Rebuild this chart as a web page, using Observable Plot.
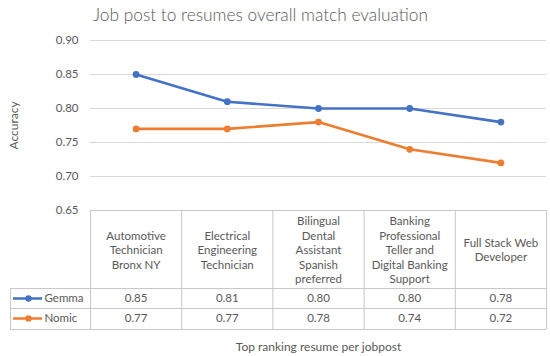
<!DOCTYPE html>
<html>
<head>
<meta charset="utf-8">
<script src="https://cdn.jsdelivr.net/npm/d3@7"></script>
<script src="https://cdn.jsdelivr.net/npm/@observablehq/plot@0.6"></script>
<style>
  body { margin: 0; background: #fff; }
  #chart svg { display: block; }
</style>
</head>
<body>
<div id="chart"></div>
<script>
const categories = [
  "Automotive\nTechnician\nBronx NY",
  "Electrical\nEngineering\nTechnician",
  "Bilingual\nDental\nAssistant\nSpanish\npreferred",
  "Banking\nProfessional\nTeller and\nDigital Banking\nSupport",
  "Full Stack Web\nDeveloper"
];
const gemma = [0.85, 0.81, 0.80, 0.80, 0.78];
const nomic = [0.77, 0.77, 0.78, 0.74, 0.72];
const seriesNames = ["Gemma", "Nomic"];
const seriesColors = ["#4472C4", "#ED7D31"];
const yTicks = [0.65, 0.70, 0.75, 0.80, 0.85, 0.90];
const title = "Job post to resumes overall match evaluation";
const xTitle = "Top ranking resume per jobpost";
const yTitle = "Accuracy";

// layout
const W = 550, H = 356;
const X0 = 90, X1 = 546, Y0 = 210, Y1 = 40;
const n = categories.length;
const yMin = yTicks[0], yMax = yTicks[yTicks.length - 1];
const invX = px => -0.5 + (px - X0) / (X1 - X0) * n;
const invY = py => yMin + (Y0 - py) / (Y0 - Y1) * (yMax - yMin);

const series = [gemma, nomic];
const rows = series.flatMap((vals, s) => vals.map((v, i) => ({series: seriesNames[s], i, v})));
const tableRowY = [298, 318];
const tableLinesY = [288, 308, 329];
const tableLeft = 10;
const boundaries = d3.range(n + 1).map(i => i - 0.5);

const grid = "#d9d9d9";
const border = "#c8c8c8";
const textColor = "#595959";
const fs = 11.5;

const chart = Plot.plot({
  width: W, height: H,
  marginLeft: X0, marginRight: W - X1, marginTop: Y1, marginBottom: H - Y0,
  style: {fontFamily: "Lato, 'Open Sans', sans-serif", fontSize: "12px", color: textColor, background: "#fff"},
  x: {domain: [-0.5, n - 0.5], axis: null},
  y: {domain: [yMin, yMax], axis: null},
  color: {domain: seriesNames, range: seriesColors},
  marks: [
    // gridlines
    Plot.ruleY(yTicks.slice(1), {stroke: grid, strokeWidth: 1}),
    // table borders
    Plot.ruleY([yMin], {x1: -0.5, x2: n - 0.5, stroke: border}),
    Plot.ruleY(tableLinesY, {y: d => invY(d), x1: invX(tableLeft), x2: n - 0.5, stroke: border}),
    Plot.ruleX(boundaries, {y1: yMin, y2: invY(tableLinesY[2]), stroke: border}),
    Plot.ruleX([invX(tableLeft)], {y1: invY(tableLinesY[0]), y2: invY(tableLinesY[2]), stroke: border}),
    // header texts
    Plot.text(categories, {x: (d, i) => i, y: invY(249), lineAnchor: "middle", lineHeight: 1.26, fill: textColor, fontSize: fs}),
    // values
    Plot.text(rows, {x: "i", y: d => invY(tableRowY[seriesNames.indexOf(d.series)]), text: d => d.v.toFixed(2), fill: textColor, fontSize: fs}),
    // legend keys in table
    Plot.ruleY(seriesNames, {y: d => invY(tableRowY[seriesNames.indexOf(d)]), x1: invX(13), x2: invX(42), stroke: d => d, strokeWidth: 2.5}),
    Plot.dot(seriesNames, {x: invX(28), y: d => invY(tableRowY[seriesNames.indexOf(d)]), fill: d => d, r: 3.2}),
    Plot.text(seriesNames, {x: invX(44), y: d => invY(tableRowY[seriesNames.indexOf(d)]), text: d => d, textAnchor: "start", fill: textColor, fontSize: fs}),
    // series
    Plot.line(rows, {x: "i", y: "v", z: "series", stroke: "series", strokeWidth: 2.6}),
    Plot.dot(rows, {x: "i", y: "v", fill: "series", r: 3.4}),
    // y axis
    Plot.axisY(yTicks, {tickSize: 0, tickPadding: 12, tickFormat: d3.format(".2f"), label: null, fill: textColor, fontSize: fs}),
    // titles
    Plot.text([title], {x: invX(260), y: invY(15), fontSize: 17.3, fill: textColor, fontWeight: 300}),
    Plot.text([xTitle], {x: invX(318), y: invY(347), fontSize: 12, fill: textColor}),
    Plot.text([yTitle], {x: invX(14), y: invY(125), rotate: -90, fontSize: 12, fill: textColor})
  ]
});
document.getElementById("chart").append(chart);
</script>
</body>
</html>
